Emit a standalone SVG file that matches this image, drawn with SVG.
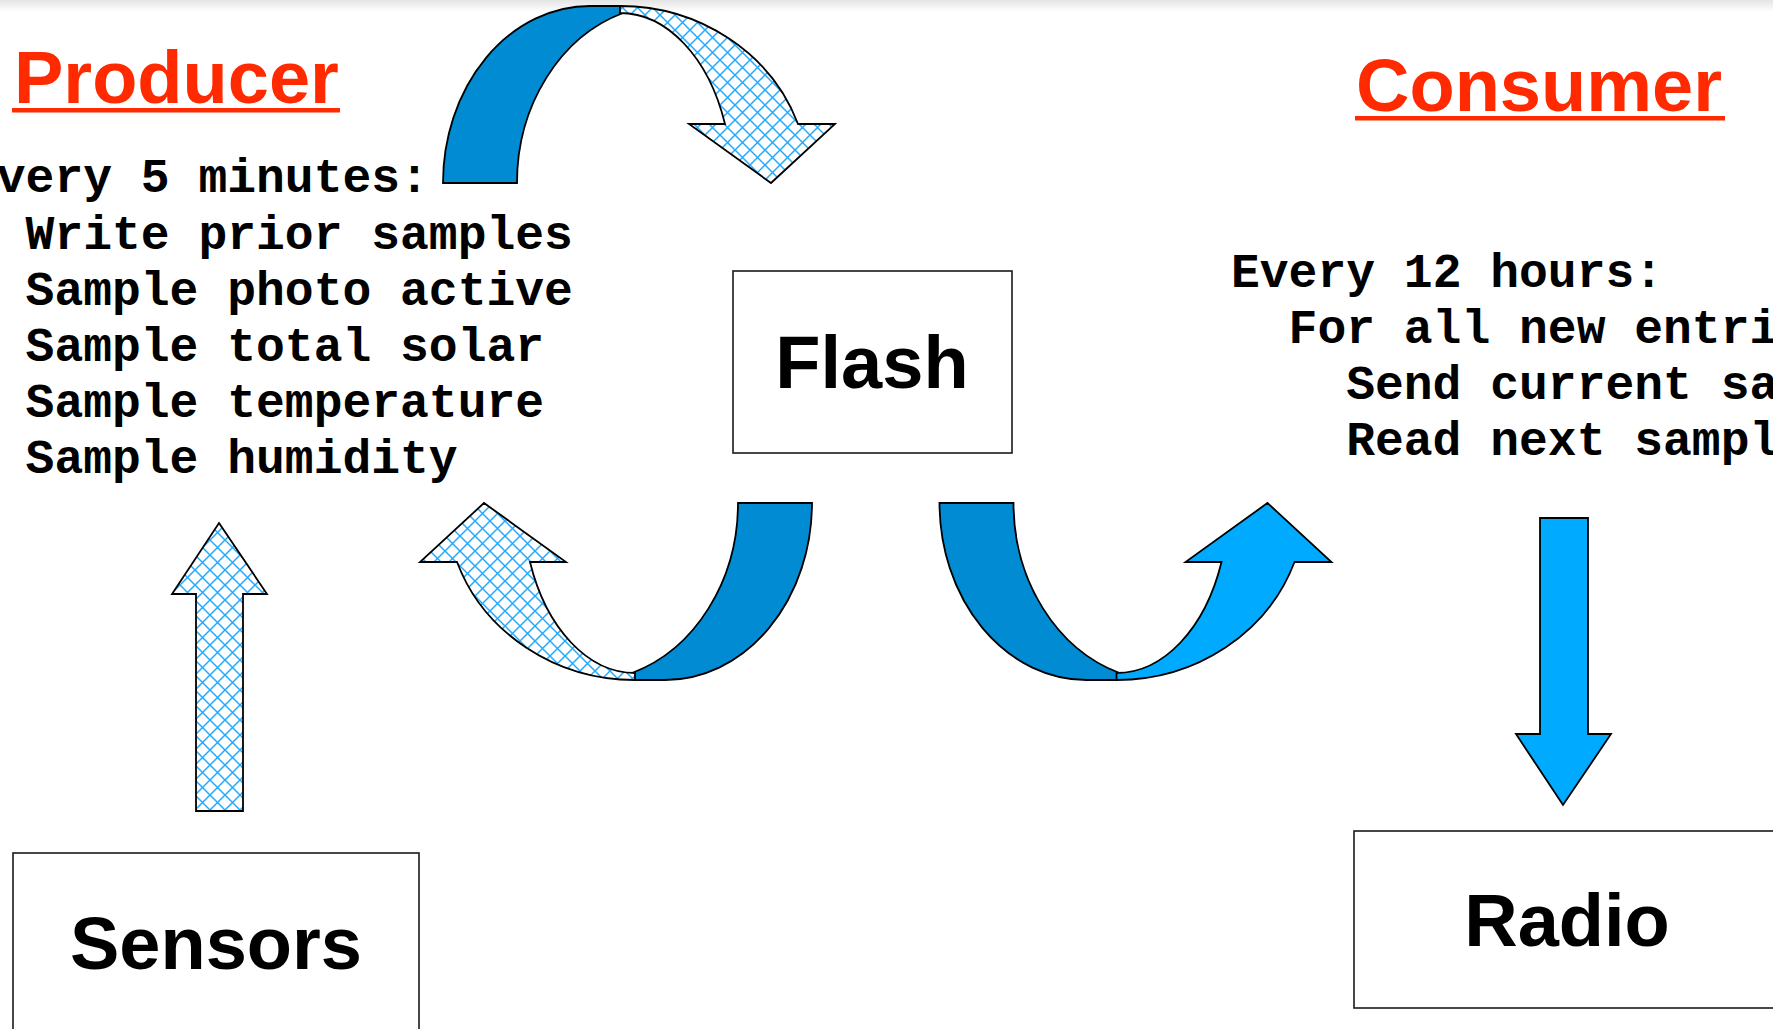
<svg xmlns="http://www.w3.org/2000/svg" xmlns:xlink="http://www.w3.org/1999/xlink" width="1773" height="1029" viewBox="0 0 1773 1029">
<style>
.box{fill:#fff;stroke:#1a1a1a;stroke-width:1.6}
.lbl{font-family:"Liberation Sans",Arial,Helvetica,sans-serif;font-weight:bold;font-size:74px;fill:#000;text-anchor:middle}
.head{font-family:"Liberation Sans",Arial,Helvetica,sans-serif;font-weight:bold;font-size:74px;fill:#ff2a00}
.ul{fill:#ff2a00}
.mono{font-family:"Liberation Mono","Courier New",monospace;font-weight:bold;font-size:48px;fill:#000}
.arr{stroke:#000;stroke-width:1.8;stroke-linejoin:miter}
.dark{fill:#008bd3}
.light{fill:#00aaff}
.hatch{fill:url(#hatch)}
</style>
<defs>
<linearGradient id="topshade" x1="0" y1="0" x2="0" y2="1">
<stop offset="0" stop-color="#e4e4e4"/>
<stop offset="1" stop-color="#ffffff"/>
</linearGradient>
<pattern id="hatch" patternUnits="userSpaceOnUse" width="15" height="15">
<rect width="15" height="15" fill="#fff"/>
<path d="M0,0 L15,15 M15,0 L0,15 M-1,14 L1,16 M14,-1 L16,1 M14,16 L16,14 M-1,1 L1,-1" stroke="#22aaff" stroke-width="1.5" fill="none"/>
</pattern>
<path id="backBand" d="M443,183 A147,177 0 0 1 590,6 L621,6 L623,13 A153,178.6 0 0 0 517,183 Z"/>
<path id="frontBand" d="M620,6 A189,177 0 0 1 798,124 L835,124 L771,183 L689,124 L725,124 A112,170 0 0 0 620,13 Z"/>
</defs>
<rect width="1773" height="1029" fill="#fff"/>
<rect width="1773" height="12" fill="url(#topshade)"/>

<g id="producer-heading">
<text class="head" x="14" y="103">Producer</text>
<rect class="ul" x="12" y="108" width="328" height="4.5"/>
</g>
<g id="consumer-heading">
<text class="head" x="1356" y="111">Consumer</text>
<rect class="ul" x="1355" y="116" width="370" height="4.5"/>
</g>

<g id="producer-text">
<text class="mono" x="-3.2" y="192">very 5 minutes:</text>
<text class="mono" x="25.6" y="248.5">Write prior samples</text>
<text class="mono" x="25.6" y="304.5">Sample photo active</text>
<text class="mono" x="25.6" y="360.5">Sample total solar</text>
<text class="mono" x="25.6" y="416.5">Sample temperature</text>
<text class="mono" x="25.6" y="472.5">Sample humidity</text>
</g>
<g id="consumer-text">
<text class="mono" x="1231" y="286.5">Every 12 hours:</text>
<text class="mono" x="1288.6" y="342.5">For all new entri</text>
<text class="mono" x="1346.2" y="398.5">Send current sa</text>
<text class="mono" x="1346.2" y="454.5">Read next sampl</text>
</g>

<g id="flash">
<rect class="box" x="733" y="271" width="279" height="182"/>
<text class="lbl" x="872" y="388">Flash</text>
</g>
<g id="sensors">
<rect class="box" x="13" y="853" width="406" height="200"/>
<text class="lbl" x="216" y="969">Sensors</text>
</g>
<g id="radio">
<rect class="box" x="1354" y="831" width="440" height="177"/>
<text class="lbl" x="1567" y="946">Radio</text>
</g>

<g id="connectors">
<g id="arrow-producer-to-flash">
<use xlink:href="#backBand" class="arr dark"/>
<use xlink:href="#frontBand" class="arr hatch"/>
</g>
<g id="arrow-flash-to-producer" transform="rotate(180 627.5 343)">
<use xlink:href="#backBand" class="arr dark"/>
<use xlink:href="#frontBand" class="arr hatch"/>
</g>
<g id="arrow-flash-to-consumer" transform="translate(496.5 686) scale(1 -1)">
<use xlink:href="#backBand" class="arr dark"/>
<use xlink:href="#frontBand" class="arr light"/>
</g>
<path id="arrow-sensors-up" class="arr hatch" d="M219,523 L267,594 L243,594 L243,811 L196,811 L196,594 L172,594 Z"/>
<path id="arrow-radio-down" class="arr light" d="M1540,518 L1588,518 L1588,734 L1611,734 L1563,805 L1516,734 L1540,734 Z"/>
</g>
</svg>
